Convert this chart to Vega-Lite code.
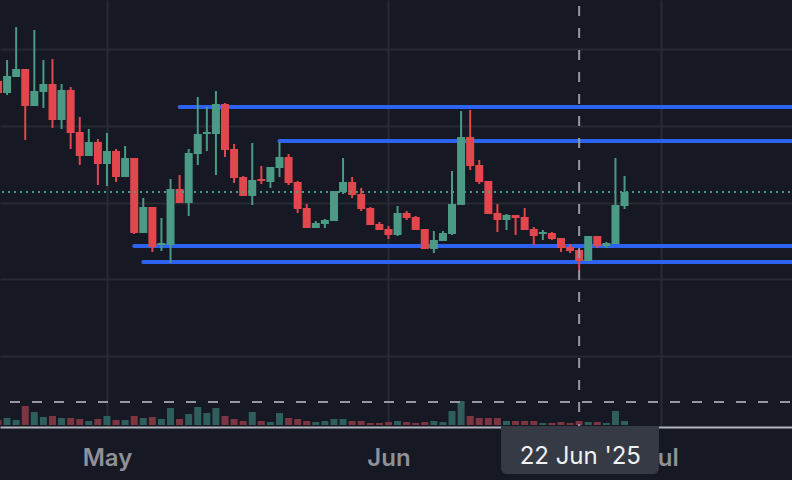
{
  "$schema": "https://vega.github.io/schema/vega-lite/v6.json",
  "description": "Daily candlesticks with volume, drawn levels and a crosshair, dark theme.",
  "width": 792,
  "height": 427,
  "autosize": {"type": "none"},
  "padding": {"left": 0, "top": 0, "right": 0, "bottom": 53},
  "background": "#161823",
  "datasets": {
    "candles": [
      {"date": "2025-04-19", "open": 387, "high": 399, "low": 387, "close": 399, "volume": 5, "dir": "down"},
      {"date": "2025-04-20", "open": 387, "high": 420, "low": 385, "close": 404, "volume": 7, "dir": "up"},
      {"date": "2025-04-21", "open": 403, "high": 453, "low": 403, "close": 411, "volume": 5, "dir": "up"},
      {"date": "2025-04-22", "open": 411, "high": 411, "low": 340, "close": 374, "volume": 19, "dir": "down"},
      {"date": "2025-04-23", "open": 374, "high": 450, "low": 374, "close": 389, "volume": 13, "dir": "up"},
      {"date": "2025-04-24", "open": 388, "high": 420, "low": 372, "close": 396, "volume": 8, "dir": "up"},
      {"date": "2025-04-25", "open": 396, "high": 421, "low": 352, "close": 360, "volume": 9, "dir": "down"},
      {"date": "2025-04-26", "open": 360, "high": 396, "low": 351, "close": 390, "volume": 7, "dir": "up"},
      {"date": "2025-04-27", "open": 390, "high": 393, "low": 331, "close": 347, "volume": 7, "dir": "down"},
      {"date": "2025-04-28", "open": 348, "high": 363, "low": 315, "close": 324, "volume": 6, "dir": "down"},
      {"date": "2025-04-29", "open": 324, "high": 351, "low": 324, "close": 338, "volume": 4, "dir": "up"},
      {"date": "2025-04-30", "open": 338, "high": 341, "low": 295, "close": 316, "volume": 6, "dir": "down"},
      {"date": "2025-05-01", "open": 316, "high": 347, "low": 294, "close": 329, "volume": 9, "dir": "up"},
      {"date": "2025-05-02", "open": 329, "high": 331, "low": 298, "close": 303, "volume": 5, "dir": "down"},
      {"date": "2025-05-03", "open": 303, "high": 334, "low": 303, "close": 322, "volume": 5, "dir": "up"},
      {"date": "2025-05-04", "open": 322, "high": 322, "low": 246, "close": 247, "volume": 9, "dir": "down"},
      {"date": "2025-05-05", "open": 247, "high": 282, "low": 247, "close": 273, "volume": 7, "dir": "up"},
      {"date": "2025-05-06", "open": 273, "high": 273, "low": 228, "close": 233, "volume": 8, "dir": "down"},
      {"date": "2025-05-07", "open": 235, "high": 262, "low": 229, "close": 237, "volume": 6, "dir": "up"},
      {"date": "2025-05-08", "open": 235, "high": 301, "low": 217, "close": 291, "volume": 17, "dir": "up"},
      {"date": "2025-05-09", "open": 291, "high": 305, "low": 277, "close": 277, "volume": 6, "dir": "down"},
      {"date": "2025-05-10", "open": 277, "high": 331, "low": 264, "close": 327, "volume": 11, "dir": "up"},
      {"date": "2025-05-11", "open": 326, "high": 383, "low": 315, "close": 346, "volume": 18, "dir": "up"},
      {"date": "2025-05-12", "open": 346, "high": 373, "low": 329, "close": 348, "volume": 12, "dir": "up"},
      {"date": "2025-05-13", "open": 346, "high": 389, "low": 305, "close": 376, "volume": 17, "dir": "up"},
      {"date": "2025-05-14", "open": 376, "high": 377, "low": 323, "close": 330, "volume": 9, "dir": "down"},
      {"date": "2025-05-15", "open": 331, "high": 336, "low": 297, "close": 302, "volume": 6, "dir": "down"},
      {"date": "2025-05-16", "open": 303, "high": 304, "low": 284, "close": 284, "volume": 4, "dir": "down"},
      {"date": "2025-05-17", "open": 284, "high": 337, "low": 275, "close": 300, "volume": 13, "dir": "up"},
      {"date": "2025-05-18", "open": 301, "high": 314, "low": 296, "close": 299, "volume": 4, "dir": "down"},
      {"date": "2025-05-19", "open": 298, "high": 313, "low": 292, "close": 313, "volume": 3, "dir": "up"},
      {"date": "2025-05-20", "open": 312, "high": 338, "low": 303, "close": 323, "volume": 12, "dir": "up"},
      {"date": "2025-05-21", "open": 323, "high": 326, "low": 295, "close": 297, "volume": 7, "dir": "down"},
      {"date": "2025-05-22", "open": 298, "high": 299, "low": 267, "close": 271, "volume": 6, "dir": "down"},
      {"date": "2025-05-23", "open": 272, "high": 276, "low": 252, "close": 252, "volume": 4, "dir": "down"},
      {"date": "2025-05-24", "open": 252, "high": 259, "low": 252, "close": 257, "volume": 3, "dir": "up"},
      {"date": "2025-05-25", "open": 256, "high": 261, "low": 252, "close": 260, "volume": 4, "dir": "up"},
      {"date": "2025-05-26", "open": 259, "high": 289, "low": 259, "close": 289, "volume": 6, "dir": "up"},
      {"date": "2025-05-27", "open": 288, "high": 322, "low": 286, "close": 298, "volume": 6, "dir": "up"},
      {"date": "2025-05-28", "open": 298, "high": 303, "low": 282, "close": 285, "volume": 4, "dir": "down"},
      {"date": "2025-05-29", "open": 286, "high": 292, "low": 269, "close": 271, "volume": 4, "dir": "down"},
      {"date": "2025-05-30", "open": 272, "high": 273, "low": 255, "close": 255, "volume": 2, "dir": "down"},
      {"date": "2025-05-31", "open": 256, "high": 258, "low": 250, "close": 250, "volume": 2, "dir": "down"},
      {"date": "2025-06-01", "open": 251, "high": 254, "low": 241, "close": 245, "volume": 3, "dir": "down"},
      {"date": "2025-06-02", "open": 245, "high": 274, "low": 244, "close": 267, "volume": 4, "dir": "up"},
      {"date": "2025-06-03", "open": 267, "high": 269, "low": 260, "close": 262, "volume": 3, "dir": "down"},
      {"date": "2025-06-04", "open": 263, "high": 264, "low": 250, "close": 250, "volume": 2, "dir": "down"},
      {"date": "2025-06-05", "open": 251, "high": 251, "low": 231, "close": 231, "volume": 3, "dir": "down"},
      {"date": "2025-06-06", "open": 231, "high": 249, "low": 227, "close": 240, "volume": 4, "dir": "up"},
      {"date": "2025-06-07", "open": 239, "high": 249, "low": 239, "close": 247, "volume": 3, "dir": "up"},
      {"date": "2025-06-08", "open": 246, "high": 309, "low": 245, "close": 276, "volume": 14, "dir": "up"},
      {"date": "2025-06-09", "open": 275, "high": 369, "low": 275, "close": 343, "volume": 24, "dir": "up"},
      {"date": "2025-06-10", "open": 343, "high": 370, "low": 310, "close": 314, "volume": 9, "dir": "down"},
      {"date": "2025-06-11", "open": 315, "high": 320, "low": 296, "close": 298, "volume": 7, "dir": "down"},
      {"date": "2025-06-12", "open": 299, "high": 299, "low": 266, "close": 266, "volume": 7, "dir": "down"},
      {"date": "2025-06-13", "open": 267, "high": 276, "low": 248, "close": 260, "volume": 7, "dir": "down"},
      {"date": "2025-06-14", "open": 260, "high": 266, "low": 250, "close": 265, "volume": 4, "dir": "up"},
      {"date": "2025-06-15", "open": 265, "high": 265, "low": 245, "close": 262, "volume": 4, "dir": "down"},
      {"date": "2025-06-16", "open": 263, "high": 272, "low": 250, "close": 250, "volume": 4, "dir": "down"},
      {"date": "2025-06-17", "open": 251, "high": 253, "low": 235, "close": 244, "volume": 4, "dir": "down"},
      {"date": "2025-06-18", "open": 246, "high": 250, "low": 240, "close": 248, "volume": 2, "dir": "up"},
      {"date": "2025-06-19", "open": 247, "high": 248, "low": 240, "close": 241, "volume": 2, "dir": "down"},
      {"date": "2025-06-20", "open": 242, "high": 242, "low": 228, "close": 232, "volume": 3, "dir": "down"},
      {"date": "2025-06-21", "open": 233, "high": 236, "low": 227, "close": 229, "volume": 2, "dir": "down"},
      {"date": "2025-06-22", "open": 230, "high": 230, "low": 210, "close": 219, "volume": 4, "dir": "down"},
      {"date": "2025-06-23", "open": 219, "high": 244, "low": 219, "close": 244, "volume": 3, "dir": "up"},
      {"date": "2025-06-24", "open": 244, "high": 244, "low": 232, "close": 234, "volume": 3, "dir": "down"},
      {"date": "2025-06-25", "open": 234, "high": 238, "low": 232, "close": 237, "volume": 2, "dir": "up"},
      {"date": "2025-06-26", "open": 236, "high": 322, "low": 236, "close": 275, "volume": 14, "dir": "up"},
      {"date": "2025-06-27", "open": 274, "high": 304, "low": 271, "close": 288, "volume": 4, "dir": "up"}
    ],
    "levels": [
      {"start": "2025-05-09", "end": "2025-07-16", "price": 373},
      {"start": "2025-05-20", "end": "2025-07-16", "price": 339},
      {"start": "2025-05-04", "end": "2025-07-16", "price": 234},
      {"start": "2025-05-05", "end": "2025-07-16", "price": 218}
    ],
    "lastPrice": [{"price": 288}],
    "crosshair": [{"date": "2025-06-22", "price": 78}],
    "dateLabel": [
      {"start": "2025-06-13T09:30:00Z", "end": "2025-06-30T19:00:00Z", "top": 54, "bottom": 6, "date": "2025-06-22T03:00:00Z", "textPrice": 16, "label": "22 Jun '25"}
    ]
  },
  "layer": [
    {
      "data": {"name": "candles"},
      "mark": {"type": "bar", "size": 7},
      "encoding": {
        "x": {
          "field": "date",
          "type": "temporal",
          "scale": {"type": "utc", "domain": ["2025-04-19T05:17:00Z", "2025-07-15T10:36:00Z"], "nice": false, "padding": 0},
          "axis": {
            "title": null,
            "values": ["2025-05-01", "2025-06-01", "2025-07-01"],
            "labelExpr": "utcFormat(datum.value, '%b')",
            "grid": true,
            "gridColor": "#272a33",
            "gridWidth": 2,
            "ticks": false,
            "domainColor": "#b2b5bd",
            "domainWidth": 2,
            "labelBaseline": "alphabetic",
            "labelPadding": 38,
            "labelFont": "Inter",
            "labelFontSize": 24,
            "labelFontWeight": 600,
            "labelColor": "#8f9197",
            "labelFlush": false,
            "labelOverlap": false
          }
        },
        "y": {
          "field": "volume",
          "type": "quantitative",
          "scale": {"domain": [-2, 425], "nice": false},
          "axis": null
        },
        "y2": {"datum": 0},
        "color": {
          "field": "dir",
          "type": "nominal",
          "scale": {"domain": ["up", "down"], "range": ["#2f5f5c", "#7d3641"]},
          "legend": null
        }
      }
    },
    {
      "layer": [
        {
          "data": {"name": "levels"},
          "mark": {"type": "rule", "color": "#2e62f0", "strokeWidth": 4, "strokeCap": "round"},
          "encoding": {
            "x": {"field": "start", "type": "temporal"},
            "x2": {"field": "end"},
            "y": {
              "field": "price",
              "type": "quantitative",
              "scale": {"domain": [53, 480], "nice": false},
              "axis": {
                "title": null,
                "values": [431, 354.2, 277.4, 200.6, 123.8],
                "grid": true,
                "gridColor": "#272a33",
                "gridWidth": 2,
                "labels": false,
                "ticks": false,
                "domain": false
              }
            }
          }
        },
        {
          "data": {"name": "candles"},
          "mark": {"type": "rule", "strokeWidth": 2},
          "encoding": {
            "x": {"field": "date", "type": "temporal"},
            "y": {"field": "low", "type": "quantitative"},
            "y2": {"field": "high"},
            "color": {
              "field": "dir",
              "type": "nominal",
              "scale": {"domain": ["up", "down"], "range": ["#4a9a85", "#e2474d"]},
              "legend": null
            }
          }
        },
        {
          "data": {"name": "candles"},
          "mark": {"type": "bar", "size": 8},
          "encoding": {
            "x": {"field": "date", "type": "temporal"},
            "y": {"field": "open", "type": "quantitative"},
            "y2": {"field": "close"},
            "color": {
              "field": "dir",
              "type": "nominal",
              "scale": {"domain": ["up", "down"], "range": ["#4a9a85", "#e2474d"]},
              "legend": null
            }
          }
        },
        {
          "data": {"name": "lastPrice"},
          "mark": {"type": "rule", "color": "#4a9a85", "strokeWidth": 2, "strokeDash": [2, 4], "strokeDashOffset": 4},
          "encoding": {"y": {"field": "price", "type": "quantitative"}}
        },
        {
          "data": {"name": "crosshair"},
          "mark": {"type": "rule", "color": "#9598a1", "strokeWidth": 2, "strokeDash": [10, 12], "strokeDashOffset": 20},
          "encoding": {"y": {"field": "price", "type": "quantitative"}}
        },
        {
          "data": {"name": "crosshair"},
          "mark": {"type": "rule", "color": "#9598a1", "strokeWidth": 2, "strokeDash": [10, 12], "strokeDashOffset": 16},
          "encoding": {"x": {"field": "date", "type": "temporal"}}
        },
        {
          "data": {"name": "dateLabel"},
          "mark": {"type": "bar", "color": "#363a45", "cornerRadiusBottomLeft": 6, "cornerRadiusBottomRight": 6},
          "encoding": {
            "x": {"field": "start", "type": "temporal"},
            "x2": {"field": "end"},
            "y": {"field": "top", "type": "quantitative"},
            "y2": {"field": "bottom"}
          }
        },
        {
          "data": {"name": "dateLabel"},
          "mark": {"type": "text", "color": "#f0f1f3", "font": "Inter", "fontSize": 24, "fontWeight": 400, "align": "center", "baseline": "alphabetic"},
          "encoding": {
            "x": {"field": "date", "type": "temporal"},
            "y": {"field": "textPrice", "type": "quantitative"},
            "text": {"field": "label", "type": "nominal"}
          }
        }
      ]
    }
  ],
  "resolve": {"scale": {"y": "independent", "color": "independent"}},
  "config": {"view": {"stroke": null}}
}
